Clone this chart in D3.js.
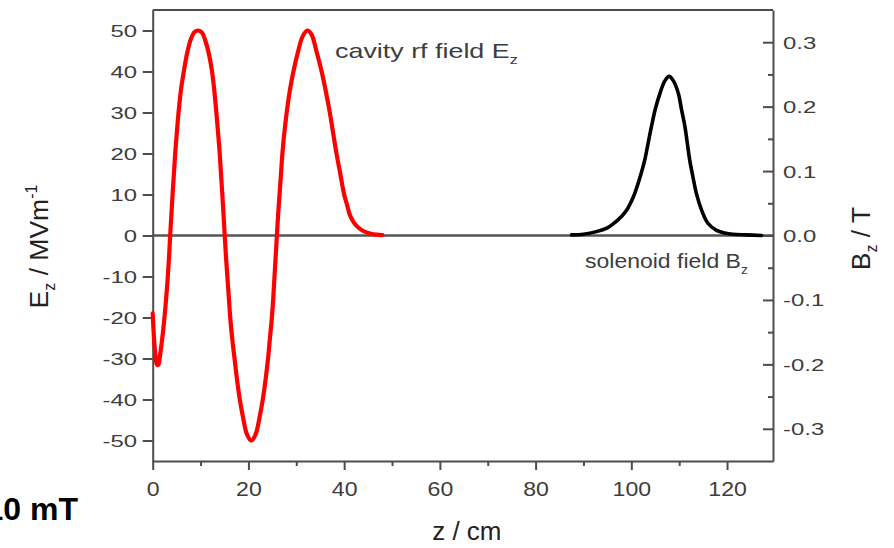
<!DOCTYPE html>
<html>
<head>
<meta charset="utf-8">
<script src="https://cdn.jsdelivr.net/npm/d3@7"></script>
<style>
  html, body { margin: 0; padding: 0; background: #fff; }
  svg { display: block; font-family: "Liberation Sans", Arial, sans-serif; }
</style>
</head>
<body>
<svg width="894" height="548"></svg>
<script>
// cavity rf field Ez [z in cm, MV/m]
const cavityField = [
  [0, -19], [0.3, -25.5], [0.6, -29.5], [0.9, -31.5], [1.2, -31.5], [1.5, -29.5],
  [1.9, -26], [2.2, -23], [2.5, -19.5], [2.8, -15.5], [3.1, -11], [3.4, -5.5],
  [3.65, 0], [3.9, 5], [4.15, 10], [4.4, 14.5], [4.7, 20], [5.0, 24.5], [5.4, 30],
  [5.9, 35.5], [6.5, 40], [7.2, 44.5], [8.0, 48], [8.8, 49.7], [9.5, 50], [10.3, 49.5],
  [11.0, 47.5], [11.7, 44.5], [12.4, 40], [12.9, 35], [13.3, 30], [13.7, 24.5],
  [14.0, 20], [14.3, 14.5], [14.55, 10], [14.8, 5], [15.05, 0], [15.3, -5], [15.6, -10],
  [15.9, -15], [16.2, -20], [16.6, -25], [17.1, -30], [17.6, -35], [18.2, -40],
  [18.9, -44.5], [19.7, -48.5], [20.6, -50], [21.5, -48.5], [22.3, -44.5], [23.0, -40],
  [23.6, -35], [24.1, -30], [24.5, -25], [24.9, -20], [25.2, -15], [25.45, -10],
  [25.7, -5], [25.95, 0], [26.2, 5], [26.5, 10], [26.8, 15], [27.1, 20], [27.5, 25],
  [28.0, 30], [28.6, 35], [29.4, 40], [30.3, 44.5], [31.3, 48.5], [32.3, 50], [33.2, 49],
  [34.2, 45], [35.3, 40], [36.2, 35], [37.0, 30], [37.7, 25], [38.4, 20], [39.2, 15],
  [40.0, 10], [40.6, 7.5], [41.2, 5], [42.0, 3.2], [42.9, 2], [44.0, 1.1], [45.4, 0.5],
  [46.8, 0.2], [48.0, 0.1]
];

// solenoid field Bz [z in cm, T]
const solenoidField = [
  [87.5, 0.001], [90, 0.002], [92.7, 0.006], [95, 0.012], [96.2, 0.018], [98, 0.03],
  [99.0, 0.039], [100, 0.053], [100.7, 0.065], [102, 0.095], [102.8, 0.117], [103.5, 0.143],
  [104.2, 0.169], [105, 0.196], [106.0, 0.221], [107, 0.24], [107.9, 0.247], [108.8, 0.24],
  [109.8, 0.221], [110.5, 0.195], [111.2, 0.169], [111.7, 0.143], [112.2, 0.117],
  [112.9, 0.09], [113.6, 0.065], [114.7, 0.039], [116.0, 0.019], [117.8, 0.008],
  [119.5, 0.004], [121.2, 0.002], [124, 0.001], [127.2, 0.0]
];

const zTicks = [0, 20, 40, 60, 80, 100, 120];
const zMinor = [10, 30, 50, 70, 90, 110];
const ezTicks = [-50, -40, -30, -20, -10, 0, 10, 20, 30, 40, 50];
const bzTicks = [-0.3, -0.2, -0.1, 0.0, 0.1, 0.2, 0.3];
const bzMinor = [-0.25, -0.15, -0.05, 0.05, 0.15, 0.25];

const svg = d3.select("svg");
const plotL = 152.7, plotR = 773, plotT = 10, plotB = 461;
const axisColor = "#4d4d4d";
const labelColor = "#3d3d3d";

// plain hyphen for negatives, like the original
const hyphen = f => d => f(d).replace("\u2212", "-");

const x = d3.scaleLinear().domain([0, 129.6]).range([plotL, plotR]);
const yE = d3.scaleLinear().domain([-55, 55]).range([plotB, plotT]);
const yB = d3.scaleLinear().domain([-0.35, 0.35]).range([plotB, plotT]);

// top frame and zero line
svg.append("line").attr("x1", plotL).attr("x2", plotR).attr("y1", plotT).attr("y2", plotT)
  .attr("stroke", axisColor).attr("stroke-width", 2);
svg.append("line").attr("x1", plotL).attr("x2", plotR).attr("y1", yE(0)).attr("y2", yE(0))
  .attr("stroke", "#555").attr("stroke-width", 2.5);

function styleAxis(g) {
  g.select(".domain").attr("stroke", axisColor).attr("stroke-width", 2);
  g.selectAll(".tick line").attr("stroke", axisColor).attr("stroke-width", 2);
  g.selectAll("text").attr("fill", labelColor);
}

// left axis
const sxSide = 1.45;
svg.append("g").attr("transform", `translate(${plotL},0)`)
  .call(d3.axisLeft(yE).tickValues(ezTicks).tickSize(10).tickSizeOuter(0).tickFormat(hyphen(d3.format("d"))))
  .call(styleAxis)
  .call(g => g.selectAll("text")
    .attr("font-size", 16.5).attr("font-family", null)
    .attr("x", -15.7 / sxSide).attr("dy", "0.36em")
    .attr("transform", `scale(${sxSide},1)`));

// right axis, ticks pointing inward
svg.append("g").attr("transform", `translate(${plotR},0)`)
  .call(d3.axisRight(yB).tickValues(bzTicks).tickSize(-10).tickSizeOuter(0).tickFormat(hyphen(d3.format(".1f"))))
  .call(styleAxis)
  .call(g => g.selectAll("text")
    .attr("font-size", 16.5).attr("font-family", null)
    .attr("x", 10 / sxSide).attr("dy", "0.36em")
    .attr("transform", `scale(${sxSide},1)`));
svg.append("g").attr("transform", `translate(${plotR},0)`)
  .call(d3.axisRight(yB).tickValues(bzMinor).tickSize(-5).tickSizeOuter(0).tickFormat(""))
  .call(styleAxis)
  .call(g => g.select(".domain").remove());

// bottom axis
svg.append("g").attr("transform", `translate(0,${plotB})`)
  .call(d3.axisBottom(x).tickValues(zTicks).tickSize(9).tickSizeOuter(0).tickFormat(d3.format("d")))
  .call(styleAxis)
  .call(g => g.selectAll("text")
    .attr("font-size", 21).attr("font-family", null)
    .attr("y", 35).attr("dy", null)
    .attr("transform", "scale(1.1,1)"));
svg.append("g").attr("transform", `translate(0,${plotB})`)
  .call(d3.axisBottom(x).tickValues(zMinor).tickSize(5).tickSizeOuter(0).tickFormat(""))
  .call(styleAxis)
  .call(g => g.select(".domain").remove());

// curves
const lineE = d3.line().x(d => x(d[0])).y(d => yE(d[1])).curve(d3.curveCatmullRom);
const lineB = d3.line().x(d => x(d[0])).y(d => yB(d[1])).curve(d3.curveCatmullRom);

svg.append("path").datum(cavityField).attr("d", lineE)
  .attr("fill", "none").attr("stroke", "#ff0000").attr("stroke-width", 4.2)
  .attr("stroke-linejoin", "round").attr("stroke-linecap", "round");
svg.append("path").datum(solenoidField).attr("d", lineB)
  .attr("fill", "none").attr("stroke", "#000").attr("stroke-width", 3.6)
  .attr("stroke-linejoin", "round").attr("stroke-linecap", "round");

// annotations
function annot(px, py, sx, size, main, sub) {
  const t = svg.append("g").attr("transform", `translate(${px},${py}) scale(${sx},1)`)
    .append("text").attr("font-size", size).attr("fill", labelColor);
  t.append("tspan").text(main);
  t.append("tspan").attr("font-size", size * 0.6).attr("dy", size * 0.3).text(sub);
}
annot(335, 58, 1.28, 21, "cavity rf field E", "z");
annot(585, 268, 1.15, 20, "solenoid field B", "z");

// axis titles
const eTitle = svg.append("text")
  .attr("transform", "translate(48,246.5) rotate(-90)")
  .attr("text-anchor", "middle").attr("font-size", 26.5).attr("fill", "#222");
eTitle.append("tspan").text("E");
eTitle.append("tspan").attr("font-size", 16).attr("dy", 7).text("z");
eTitle.append("tspan").attr("dy", -7).text(" / MVm");
eTitle.append("tspan").attr("font-size", 16).attr("dy", -11).text("-1");

const bTitle = svg.append("text")
  .attr("transform", "translate(870,238.5) rotate(-90)")
  .attr("text-anchor", "middle").attr("font-size", 26.5).attr("fill", "#222");
bTitle.append("tspan").text("B");
bTitle.append("tspan").attr("font-size", 16).attr("dy", 7).text("z");
bTitle.append("tspan").attr("dy", -7).text(" / T");

svg.append("text").attr("x", (plotL + plotR) / 2 + 4).attr("y", 540)
  .attr("text-anchor", "middle").attr("font-size", 26).attr("fill", "#222")
  .text("z / cm");

svg.append("text").attr("x", 78).attr("y", 520)
  .attr("text-anchor", "end").attr("font-size", 32).attr("font-weight", "bold")
  .attr("fill", "#000").text("10 mT");
</script>
</body>
</html>
